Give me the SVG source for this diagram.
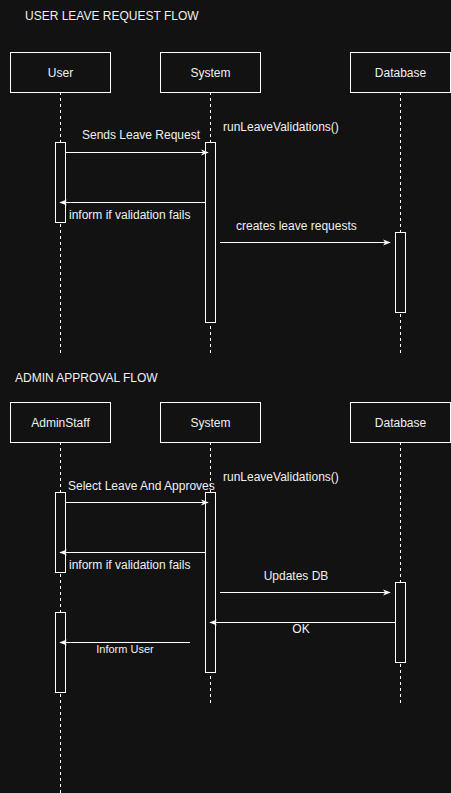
<svg xmlns="http://www.w3.org/2000/svg" width="451" height="793" viewBox="0 0 451 793">
<defs>
<style>
.bg{fill:#121212}
.box{fill:#121212;stroke:#ffffff;stroke-width:1}
.act{fill:#121212;stroke:#ffffff;stroke-width:1}
.life{stroke:#ffffff;stroke-width:1;stroke-dasharray:3,3;fill:none}
.msg{stroke:#ffffff;stroke-width:1;fill:none;marker-end:url(#arr)}
text{font-family:"Liberation Sans",Arial,sans-serif;fill:#f0f0f0;font-size:12px}
.c{text-anchor:middle}
.sm{font-size:11px}
</style>
<marker id="arr" viewBox="0 0 10 10" refX="9" refY="5" markerWidth="8" markerHeight="8" markerUnits="userSpaceOnUse" orient="auto">
<path d="M0,1 L10,5 L0,9 L3,5 z" fill="#ffffff"/>
</marker>
</defs>
<rect class="bg" x="0" y="0" width="451" height="793"/>

<text id="title1" x="25" y="20">USER LEAVE REQUEST FLOW</text>
<text id="title2" x="15" y="382">ADMIN APPROVAL FLOW</text>

<g id="lifelines">
<line class="life" x1="60.5" y1="92" x2="60.5" y2="353"/>
<line class="life" x1="210.5" y1="92" x2="210.5" y2="353"/>
<line class="life" x1="400.5" y1="92" x2="400.5" y2="353"/>
<line class="life" x1="60.5" y1="442" x2="60.5" y2="793"/>
<line class="life" x1="210.5" y1="442" x2="210.5" y2="703"/>
<line class="life" x1="400.5" y1="442" x2="400.5" y2="703"/>
</g>

<g id="user"><rect class="box" x="10.5" y="52.5" width="100" height="40"/><text class="c" x="60.5" y="77">User</text></g>
<g id="system1"><rect class="box" x="160.5" y="52.5" width="100" height="40"/><text class="c" x="210.5" y="77">System</text></g>
<g id="database1"><rect class="box" x="350.5" y="52.5" width="100" height="40"/><text class="c" x="400.5" y="77">Database</text></g>

<g id="adminstaff"><rect class="box" x="10.5" y="402.5" width="100" height="40"/><text class="c" x="60.5" y="427">AdminStaff</text></g>
<g id="system2"><rect class="box" x="160.5" y="402.5" width="100" height="40"/><text class="c" x="210.5" y="427">System</text></g>
<g id="database2"><rect class="box" x="350.5" y="402.5" width="100" height="40"/><text class="c" x="400.5" y="427">Database</text></g>

<g id="activations">
<rect class="act" x="55.5" y="142.5" width="10" height="80"/>
<rect class="act" x="205.5" y="142.5" width="10" height="180"/>
<rect class="act" x="395.5" y="232.5" width="10" height="80"/>
<rect class="act" x="55.5" y="492.5" width="10" height="80"/>
<rect class="act" x="205.5" y="492.5" width="10" height="180"/>
<rect class="act" x="395.5" y="582.5" width="10" height="80"/>
<rect class="act" x="55.5" y="612.5" width="10" height="80"/>
</g>

<g id="connectors">
<line class="msg" x1="66" y1="152.5" x2="208" y2="152.5"/>
<line class="msg" x1="205" y1="202.5" x2="60" y2="202.5"/>
<line class="msg" x1="220" y1="242.5" x2="390" y2="242.5"/>
<line class="msg" x1="66" y1="502.5" x2="208" y2="502.5"/>
<line class="msg" x1="205" y1="552.5" x2="60" y2="552.5"/>
<line class="msg" x1="220" y1="592.5" x2="390" y2="592.5"/>
<line class="msg" x1="395" y1="622.5" x2="210" y2="622.5"/>
<line class="msg" x1="190" y1="642.5" x2="60" y2="642.5"/>
</g>

<g id="labels">
<text class="c" x="141" y="139">Sends Leave Request</text>
<text x="223" y="131">runLeaveValidations()</text>
<text x="69" y="219">inform if validation fails</text>
<text x="236" y="230">creates leave requests</text>
<text x="68" y="490">Select Leave And Approves</text>
<text x="223" y="481">runLeaveValidations()</text>
<text x="69" y="569">inform if validation fails</text>
<text class="c" x="296" y="580">Updates DB</text>
<text class="c" x="301" y="633">OK</text>
<text class="c sm" x="125" y="653">Inform User</text>
</g>
</svg>
